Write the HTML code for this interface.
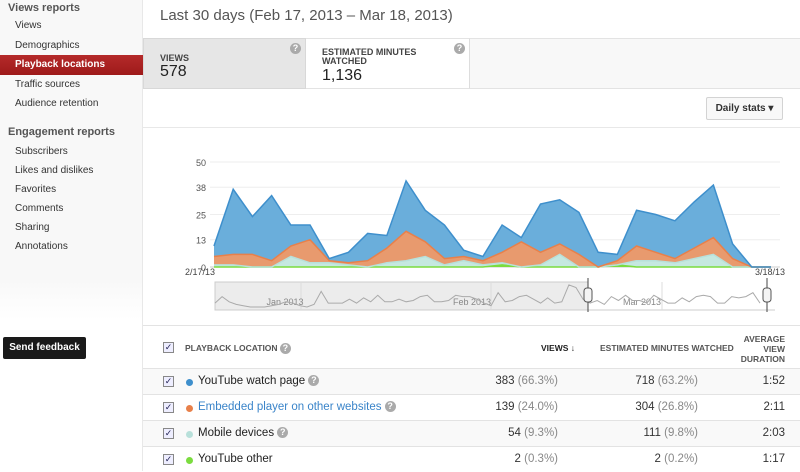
<!DOCTYPE html>
<html><head><meta charset="utf-8">
<style>
*{box-sizing:border-box;margin:0;padding:0}
body{width:800px;height:471px;overflow:hidden;font-family:"Liberation Sans",Arial,sans-serif;background:#fff;position:relative;color:#333}
.abs{position:absolute}
#side{left:0;top:0;width:143px;height:471px;background:linear-gradient(#f8f8f8 0,#f8f8f8 280px,#fff 320px,#fff 471px);border-right:1px solid #e8e8e8}
.sh{position:absolute;left:8px;font-size:11px;color:#555;font-weight:bold}
.si{position:absolute;left:15px;font-size:10px;color:#333}
#sel{left:0;top:55px;width:143px;height:20px;background:linear-gradient(#b52a2a,#9e1a1a);}
.q{display:inline-block;width:11px;height:11px;border-radius:50%;background:#aaa;color:#fff;font-size:9px;line-height:11px;text-align:center;font-weight:bold;vertical-align:middle}
.th{position:absolute;font-size:8.5px;font-weight:bold;color:#555}
.row{position:absolute;left:143px;width:657px;height:26px;border-top:1px solid #e3e3e3;font-size:11.5px}
.row.alt{background:#f9f9f9}
.cb{position:absolute;left:20px;top:7px;width:11px;height:11px;border:1px solid #888;background:#eef;font-size:9px;line-height:9px;text-align:center;color:#225}
.dot{position:absolute;left:43px;top:10px;width:7px;height:7px;border-radius:50%}
.lbl{position:absolute;left:55px;top:6px}
.num{position:absolute;top:6px;text-align:right}
.pct{color:#888}
</style></head><body>
<div id="side" class="abs">
<div class="sh" style="top:2px">Views reports</div>
<div class="si" style="top:20px">Views</div>
<div class="si" style="top:40px">Demographics</div>
<div id="sel" class="abs"><span style="position:absolute;left:15px;top:4px;font-size:10px;color:#fff;font-weight:bold">Playback locations</span></div>
<div class="si" style="top:79px">Traffic sources</div>
<div class="si" style="top:98px">Audience retention</div>
<div class="sh" style="top:126px">Engagement reports</div>
<div class="si" style="top:146px">Subscribers</div>
<div class="si" style="top:165px">Likes and dislikes</div>
<div class="si" style="top:184px">Favorites</div>
<div class="si" style="top:203px">Comments</div>
<div class="si" style="top:222px">Sharing</div>
<div class="si" style="top:241px">Annotations</div>
<div class="abs" style="left:3px;top:337px;width:83px;height:22px;background:#1a1a1a;border-radius:2px;color:#fff;font-size:10px;font-weight:bold;text-align:center;padding-top:5px">Send feedback</div>
</div>

<div class="abs" style="left:160px;top:7px;font-size:15px;color:#555">Last 30 days (Feb 17, 2013 – Mar 18, 2013)</div>
<div class="abs" style="left:143px;top:38px;width:657px;height:51px;background:#f8f8f8;border-top:1px solid #e3e3e3;border-bottom:1px solid #e3e3e3"></div>
<div class="abs" style="left:143px;top:38px;width:163px;height:51px;background:#e6e6e6;border:1px solid #d8d8d8">
<div style="position:absolute;left:16px;top:14px;font-size:9px;font-weight:bold;color:#444">VIEWS</div>
<div style="position:absolute;left:16px;top:24px;font-size:16px;color:#222">578</div>
<span class="q" style="position:absolute;right:4px;top:4px">?</span></div>
<div class="abs" style="left:306px;top:38px;width:164px;height:51px;background:#fff;border-right:1px solid #ddd;border-top:1px solid #e3e3e3;border-bottom:1px solid #e3e3e3">
<div style="position:absolute;left:16px;top:9px;font-size:9px;font-weight:bold;color:#444;line-height:9px">ESTIMATED MINUTES<br>WATCHED</div>
<div style="position:absolute;left:16px;top:28px;font-size:16px;color:#222">1,136</div>
<span class="q" style="position:absolute;right:4px;top:4px">?</span></div>
<div class="abs" style="left:706px;top:97px;width:77px;height:23px;background:#f8f8f8;border:1px solid #d3d3d3;border-radius:2px;font-size:10px;font-weight:bold;color:#333;line-height:21px;text-align:center">Daily stats ▾</div>
<div class="abs" style="left:143px;top:127px;width:657px;height:1px;background:#e8e8e8"></div>

<svg id="chart" class="abs" style="left:0;top:0" width="800" height="330"></svg>

<div class="abs" style="left:143px;top:325px;width:657px;height:43px;border-top:1px solid #e3e3e3">
<div class="cb" style="top:16px">✓</div>
<div class="th" style="left:42px;top:17px">PLAYBACK LOCATION <span class="q">?</span></div>
<div class="th" style="left:398px;top:17px;color:#222">VIEWS ↓</div>
<div class="th" style="left:457px;top:17px">ESTIMATED MINUTES WATCHED</div>
<div class="th" style="left:594px;top:8px;width:48px;text-align:right;line-height:10px">AVERAGE<br>VIEW<br>DURATION</div>
</div>
<div id="rows"></div>

<script>
const days = ['2/17/13','3/18/13'];
const yTicks = [0,13,25,38,50];
const watchPage = [5,31,18,31,10,7,1,5,13,6,24,15,16,3,2,13,2,23,21,20,7,3,17,18,18,22,25,7,0,0];
const embedded = [4,5,6,3,5,11,1,1,3,7,14,7,3,2,2,5,12,6,5,6,0,2,7,4,2,5,8,4,0,0];
const mobile = [1,1,0,0,5,2,2,1,0,2,3,5,1,3,1,1,0,1,6,0,0,0,3,3,2,4,6,0,0,0];
const other = [0,0,0,0,0,0,0,0,0,0,0,0,0,0,0,1,0,0,0,0,0,1,0,0,0,0,0,0,0,0];
const navValues = [3,8,4,2,1,0,0,0,1,2,4,3,1,0,2,12,3,3,3,6,3,7,4,9,4,4,6,4,5,8,9,4,4,5,9,8,8,6,3,1,11,4,5,8,9,6,3,7,3,4,17,15,6,3,5,2,8,5,9,5,5,3,9,6,3,3,7,4,8,9,8,3,3,8,7,8,11,3];
const rowNames = ['YouTube watch page','Embedded player on other websites','Mobile devices','YouTube other'];
const rowViews = ['383','139','54','2'];
const rowViewPct = ['(66.3%)','(24.0%)','(9.3%)','(0.3%)'];
const rowMin = ['718','304','111','2'];
const rowMinPct = ['(63.2%)','(26.8%)','(9.8%)','(0.2%)'];
const rowDur = ['1:52','2:11','2:03','1:17'];

const NS='http://www.w3.org/2000/svg';
const svg=document.getElementById('chart');
const X0=214,X1=771,Y0=267,Y50=162;
const x=i=>X0+i*(X1-X0)/(watchPage.length-1);
const y=v=>Y0-(v/50)*(Y0-Y50);
function mk(t,a){const e=document.createElementNS(NS,t);for(const k in a)e.setAttribute(k,a[k]);svg.appendChild(e);return e;}
yTicks.forEach(t=>{
  const l=mk('line',{x1:210,x2:780,y1:y(t),y2:y(t),stroke:t===0?'#ccc':'#eee'});
  
  
  const tx=mk('text',{x:206,y:y(t)+4,'text-anchor':'end','font-size':9,fill:'#555'});
  tx.textContent=t;
  
  
});
const series=[[other,'#7bdc3f','#7bdc3f'],[mobile,'#c5e8e0','#b8e0da'],[embedded,'#e89a6e','#e8804a'],[watchPage,'#6aaedb','#3e8fcc']];
const names=['series-youtube-other','series-mobile','series-embedded','series-watch-page'];
let base=watchPage.map(()=>0);
const layers=[];
series.forEach((s,k)=>{
  const top=base.map((b,i)=>b+s[0][i]);
  layers.push([base,top,s,names[k]]);
  base=top;
});
layers.slice().reverse().forEach(([b,t,s,n])=>{
  let d='M'+t.map((v,i)=>x(i)+','+y(v)).join('L')+'L'+b.map((v,i)=>[i,v]).reverse().map(([i,v])=>x(i)+','+y(v)).join('L')+'Z';
  const p=mk('path',{d:d,fill:s[1],stroke:'none'});
  
  
});
layers.forEach(([b,t,s,n])=>{
  const p=mk('path',{d:'M'+t.map((v,i)=>x(i)+','+y(v)).join('L'),fill:'none',stroke:s[2],'stroke-width':1.5});
  
  
});
[[days[0],200,'middle'],[days[1],770,'middle']].forEach(([t,px,a])=>{
  const e=mk('text',{x:px,y:275,'text-anchor':a,'font-size':9,fill:'#444'});
  e.textContent=t;
  
  
});
const NX0=215,NX1=775,NT=282,NB=310;
let r=mk('rect',{x:NX0,y:NT,width:588-NX0,height:NB-NT,fill:'#ececec',stroke:'#ccc'});


r=mk('line',{x1:NX0,x2:NX1,y1:NB,y2:NB,stroke:'#ccc'});
[301,491,662].forEach(px=>{const l=mk('line',{x1:px,x2:px,y1:NT,y2:NB,stroke:'#ddd'});});
[['Jan 2013',285],['Feb 2013',472],['Mar 2013',642]].forEach(([t,px])=>{const e=mk('text',{x:px,y:305,'text-anchor':'middle','font-size':9,fill:'#888'});e.textContent=t;});
const nx=i=>NX0+i*(760-NX0)/(navValues.length-1);
const ny=v=>NB-3-v*1.3;
let np=mk('path',{d:'M'+navValues.map((v,i)=>nx(i)+','+ny(v)).join('L'),fill:'none',stroke:'#aaa','stroke-width':1});


[588,767].forEach(px=>{
  mk('line',{x1:px,x2:px,y1:NT-4,y2:NB+2,stroke:'#444'});
  const h=mk('rect',{x:px-4,y:288,width:8,height:14,rx:3,fill:'#f4f4f4',stroke:'#555'});
  
  
});
const colors=['#3e8fcc','#e8804a','#b8e0da','#7bdc3f'];
const rows=document.getElementById('rows');
rowNames.forEach((n,i)=>{
  const d=document.createElement('div');
  d.className='row'+(i%2===0?' alt':'');
  d.style.top=(368+i*26)+'px';
  
  
  const q=i<3?' <span class="q">?</span>':'';
  d.innerHTML='<div class="cb">✓</div><div class="dot" style="background:'+colors[i]+'"></div>'+
   '<div class="lbl" style="color:'+(i===1?'#3a84c9':'#222')+'">'+n+q+'</div>'+
   '<div class="num" style="right:242px">'+rowViews[i]+' <span class="pct">'+rowViewPct[i]+'</span></div>'+
   '<div class="num" style="right:102px">'+rowMin[i]+' <span class="pct">'+rowMinPct[i]+'</span></div>'+
   '<div class="num" style="right:15px">'+rowDur[i]+'</div>';
  rows.appendChild(d);
});
</script>
</body></html>
